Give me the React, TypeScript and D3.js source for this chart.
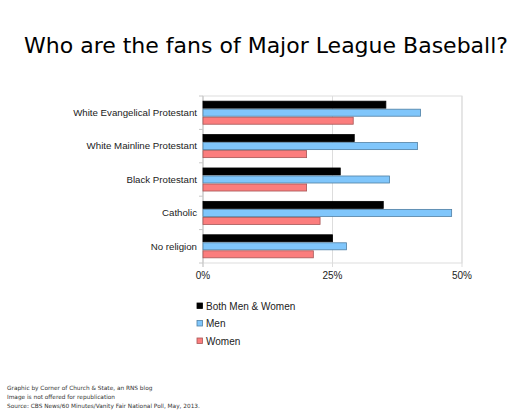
import React from 'react';
import * as d3 from 'd3';

// Chart data
const categories = [
  'White Evangelical Protestant',
  'White Mainline Protestant',
  'Black Protestant',
  'Catholic',
  'No religion',
];
const seriesNames = ['Both Men & Women', 'Men', 'Women'];
const bothValues = [0.353, 0.292, 0.265, 0.348, 0.25];
const menValues = [0.42, 0.414, 0.36, 0.48, 0.277];
const womenValues = [0.29, 0.20, 0.20, 0.226, 0.213];
const xTicks = [0, 0.25, 0.5];
const footerLines = [
  'Graphic by Corner of Church & State, an RNS blog',
  'Image is not offered for republication',
  'Source: CBS News/60 Minutes/Vanity Fair National Poll, May, 2013.',
];

const fills = ['#000000', '#80c6fb', '#fb7d7d'];
const strokes = ['#000000', '#4f7fa3', '#a65656'];

const width = 525;
const height = 420;
const plot = { left: 203, right: 462, top: 96, bottom: 263 };

const App: React.FC = () => {
  const values = [bothValues, menValues, womenValues];

  const x = d3.scaleLinear().domain([0, 0.5]).range([plot.left, plot.right]);
  const y = d3
    .scaleBand<string>()
    .domain(categories)
    .range([plot.top, plot.bottom])
    .paddingInner(0.28)
    .paddingOuter(0.14);
  const inner = d3
    .scaleBand<string>()
    .domain(seriesNames)
    .range([0, y.bandwidth()]);

  const pct = d3.format('.0%');
  const labelFont = '"Liberation Sans", Arial, sans-serif';
  const verdana = '"DejaVu Sans", Verdana, sans-serif';

  // band boundaries for the little ticks on the category axis
  const bandEdges = categories.map((c) => (y(c) as number) - (y.step() * y.paddingInner()) / 2);
  bandEdges.push(plot.bottom);

  return (
    <svg
      width={width}
      height={height}
      style={{ position: 'absolute', left: 0, top: 0, background: '#fff' }}
    >
      <text
        x={266}
        y={53}
        textAnchor="middle"
        fontFamily={verdana}
        fontSize={22}
        fill="#000"
      >
        Who are the fans of Major League Baseball?
      </text>

      {/* plot frame and gridlines */}
      <rect
        x={plot.left}
        y={plot.top}
        width={plot.right - plot.left}
        height={plot.bottom - plot.top}
        fill="none"
        stroke="#dddddd"
      />
      {xTicks.map((t) => (
        <line
          key={t}
          x1={x(t)}
          x2={x(t)}
          y1={plot.top}
          y2={plot.bottom + 4}
          stroke="#dddddd"
        />
      ))}
      <line x1={plot.left} x2={plot.left} y1={plot.top} y2={plot.bottom + 4} stroke="#c8c8c8" />
      {bandEdges.map((e, i) => (
        <line key={i} x1={plot.left - 4} x2={plot.left} y1={e} y2={e} stroke="#c8c8c8" />
      ))}

      {/* bars */}
      {categories.map((c, ci) =>
        seriesNames.map((s, si) => (
          <rect
            key={c + s}
            x={x(0)}
            y={(y(c) as number) + (inner(s) as number) + 0.5}
            width={x(values[si][ci]) - x(0)}
            height={inner.bandwidth() - 1}
            fill={fills[si]}
            stroke={strokes[si]}
            strokeWidth={0.8}
          />
        ))
      )}

      {/* category labels */}
      {categories.map((c) => (
        <text
          key={c}
          x={plot.left - 6}
          y={(y(c) as number) + y.bandwidth() / 2}
          dy="0.35em"
          textAnchor="end"
          fontFamily={labelFont}
          fontSize={9.7}
          fill="#222"
        >
          {c}
        </text>
      ))}

      {/* x tick labels */}
      {xTicks.map((t) => (
        <text
          key={t}
          x={x(t)}
          y={279}
          textAnchor="middle"
          fontFamily={labelFont}
          fontSize={10}
          fill="#222"
        >
          {pct(t)}
        </text>
      ))}

      {/* legend */}
      {seriesNames.map((s, i) => (
        <g key={s} transform={`translate(197,${303 + i * 17.5})`}>
          <rect width={5.5} height={5.5} fill={fills[i]} stroke={strokes[i]} strokeWidth={0.8} />
          <text x={9} y={3} dy="0.35em" fontFamily={labelFont} fontSize={10} fill="#222">
            {s}
          </text>
        </g>
      ))}

      {/* footer */}
      {footerLines.map((l, i) => (
        <text key={i} x={7} y={390 + i * 9} fontFamily={verdana} fontSize={5.8} fill="#333">
          {l}
        </text>
      ))}
    </svg>
  );
};

export default App;
